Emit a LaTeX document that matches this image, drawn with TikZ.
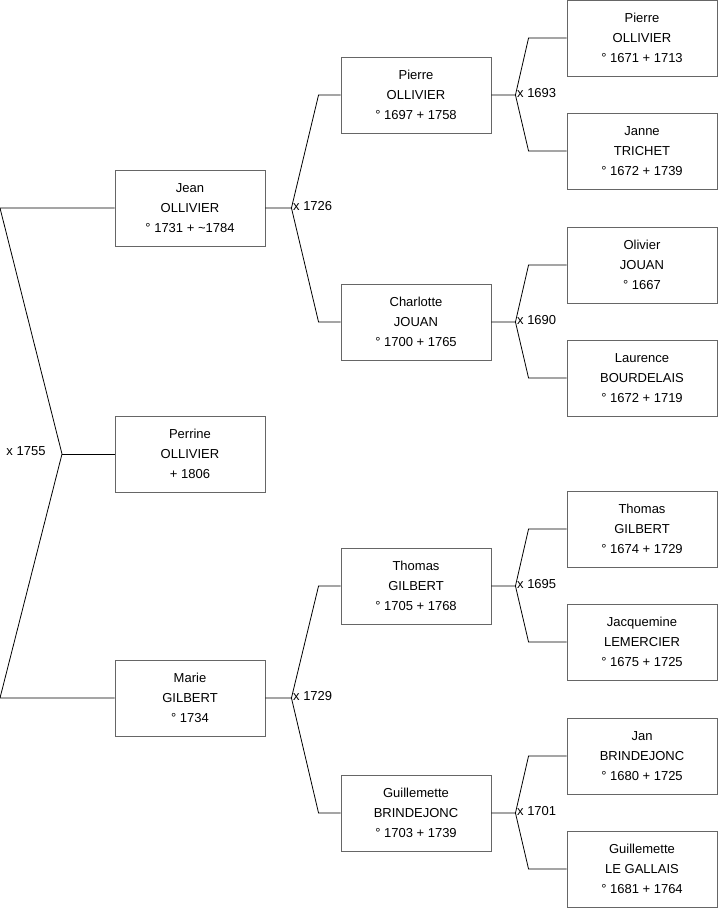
\documentclass[tikz,border=0pt]{standalone}
\usepackage{fontspec}
\setmainfont{Liberation Sans}
\usetikzlibrary{positioning}

\begin{document}
\begin{tikzpicture}[x=1pt, y=-1pt,
		person/.style={draw=black!60, line width=0.9pt, fill=white, minimum width=150pt, minimum height=76pt, inner sep=0pt, align=center},
		mariage/.style={inner sep=1.5pt},
		lien/.style={line width=0.8pt},
		font=\fontsize{13}{20}\selectfont]
	% Rahmen
	\useasboundingbox (0,0) rectangle (719,908);
	% Generation 0
	\node[person] (p) at (190,454) {Perrine\\OLLIVIER\\+ 1806};
	% Generation 1
	\node[person] (f) at (190,208) {Jean\\OLLIVIER\\° 1731 + \textasciitilde1784};
	\node[person] (m) at (190,698) {Marie\\GILBERT\\° 1734};
	% Generation 2
	\node[person] (ff) at (416,95) {Pierre\\OLLIVIER\\° 1697 + 1758};
	\node[person] (fm) at (416,322) {Charlotte\\JOUAN\\° 1700 + 1765};
	\node[person] (mf) at (416,586) {Thomas\\GILBERT\\° 1705 + 1768};
	\node[person] (mm) at (416,813) {Guillemette\\BRINDEJONC\\° 1703 + 1739};
	% Generation 3
	\node[person] (fff) at (642,38) {Pierre\\OLLIVIER\\° 1671 + 1713};
	\node[person] (ffm) at (642,151) {Janne\\TRICHET\\° 1672 + 1739};
	\node[person] (fmf) at (642,265) {Olivier\\JOUAN\\° 1667};
	\node[person] (fmm) at (642,378) {Laurence\\BOURDELAIS\\° 1672 + 1719};
	\node[person] (mff) at (642,529) {Thomas\\GILBERT\\° 1674 + 1729};
	\node[person] (mfm) at (642,642) {Jacquemine\\LEMERCIER\\° 1675 + 1725};
	\node[person] (mmf) at (642,756) {Jan\\BRINDEJONC\\° 1680 + 1725};
	\node[person] (mmm) at (642,869) {Guillemette\\LE GALLAIS\\° 1681 + 1764};
	% Eltern von Perrine
	\coordinate (p-x) at (62,454);
	\coordinate (f-c) at (0,208);
	\coordinate (m-c) at (0,698);
	\draw[lien] (p.west) -- (p-x);
	\draw[lien] (f.west) -- (f-c) -- (p-x) -- (m-c) -- (m.west);
	\node[mariage] (p-m) at (26,451) {x 1755};
	% Eltern der weiteren Generationen
	\foreach \c/\a/\b/\d/\e/\y in {f/ff/fm/26/22/1726, m/mf/mm/26/22/1729,
			ff/fff/ffm/24/38/1693, fm/fmf/fmm/24/38/1690,
			mf/mff/mfm/24/38/1695, mm/mmf/mmm/24/38/1701} {
		\coordinate (\c-x) at ([xshift=\d pt]\c.east);
		\draw[lien] (\c.east) -- (\c-x) -- ([xshift=-\e pt]\a.west) -- (\a.west);
		\draw[lien] (\c-x) -- ([xshift=-\e pt]\b.west) -- (\b.west);
		\node[mariage, right, yshift=1.5pt] (\c-m) at (\c-x) {x \y};
	}
\end{tikzpicture}
\end{document}
